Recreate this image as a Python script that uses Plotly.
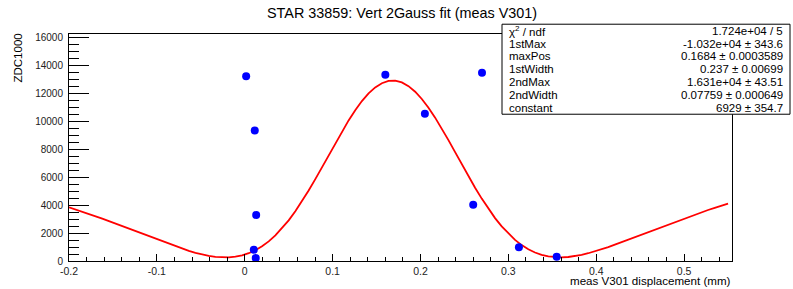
import numpy as np
import plotly.graph_objects as go

# Data points
x_pts = [0.0016, 0.0114, 0.013, 0.0103, 0.0125, 0.160, 0.205, 0.270, 0.260, 0.312, 0.355]
y_pts = [13230, 9350, 3290, 810, 210, 13340, 10540, 13480, 4030, 980, 300]

# Fit parameters (from stats box)
fit_names = ["1stMax", "maxPos", "1stWidth", "2ndMax", "2ndWidth", "constant"]
fit_vals = [-1.032e4, 0.1684, 0.237, 1.631e4, 0.07759, 6929]
stat_labels = ["χ<sup>2</sup> / ndf", "1stMax", "maxPos", "1stWidth", "2ndMax", "2ndWidth", "constant"]
stat_values = ["1.724e+04 / 5", "-1.032e+04 ± 343.6", "0.1684 ± 0.0003589", "0.237 ± 0.00699",
               "1.631e+04 ± 43.51", "0.07759 ± 0.000649", "6929 ± 354.7"]
fit_range = [-0.2, 0.55]

x_ticks = [-0.2, -0.1, 0, 0.1, 0.2, 0.3, 0.4, 0.5]
x_ticktext = ["-0.2", "-0.1", "0", "0.1", "0.2", "0.3", "0.4", "0.5"]
y_ticks = [0, 2000, 4000, 6000, 8000, 10000, 12000, 14000, 16000]
y_ticktext = ["0", "2000", "4000", "6000", "8000", "10000", "12000", "14000", "16000"]

a1, mu, s1, a2, s2, c = fit_vals
xf = np.linspace(fit_range[0], fit_range[1], 100)
yf = c + a1 * np.exp(-0.5 * ((xf - mu) / s1) ** 2) + a2 * np.exp(-0.5 * ((xf - mu) / s2) ** 2)

W, H = 793, 289
L, R, T, B = 69, 732, 34, 266
FONT = "Liberation Sans, Arial, Helvetica, sans-serif"

fig = go.Figure()
fig.add_trace(go.Scatter(x=xf, y=yf, mode="lines", line=dict(color="#ff0000", width=1.8), hoverinfo="skip"))
fig.add_trace(go.Scatter(x=x_pts, y=y_pts, mode="markers", marker=dict(color="#0000ff", size=8)))

def px(xp):
    return (xp - L) / (R - L)

def py(yp):
    return (B - yp) / (B - T)

fig.update_layout(
    width=W, height=H,
    margin=dict(l=L, r=W - R, t=T, b=H - B, pad=0),
    paper_bgcolor="white", plot_bgcolor="white",
    showlegend=False,
    font=dict(family=FONT, size=11, color="black"),
    xaxis=dict(range=[-0.2, 0.5545], showgrid=False, zeroline=False,
               showline=True, linecolor="black", linewidth=1, mirror=True,
               ticks="inside", ticklen=7, tickcolor="black",
               tickfont=dict(size=10.5, color="#222"), ticklabelstandoff=0,
               tickvals=x_ticks, ticktext=x_ticktext,
               minor=dict(ticks="inside", ticklen=4, dtick=0.02, tick0=0, tickcolor="black", showgrid=False)),
    yaxis=dict(range=[0, 16250], showgrid=False, zeroline=False,
               showline=True, linecolor="black", linewidth=1, mirror=True,
               ticks="inside", ticklen=20, tickcolor="black",
               tickvals=y_ticks, ticktext=y_ticktext, ticklabelstandoff=3,
               tickfont=dict(size=10, color="#222"),
               minor=dict(ticks="inside", ticklen=10, dtick=500, tick0=0, tickcolor="black", showgrid=False)),
)

# Title
fig.add_annotation(text="STAR 33859: Vert 2Gauss fit (meas V301)", xref="paper", yref="paper",
                   x=px(402), y=py(13), xanchor="center", yanchor="middle", showarrow=False,
                   font=dict(size=14.4, family=FONT))
# Axis titles
fig.add_annotation(text="meas V301 displacement (mm)", xref="paper", yref="paper",
                   x=px(732), y=py(285.5), xanchor="right", yanchor="middle", showarrow=False,
                   borderpad=0, font=dict(size=11.6, family=FONT))
fig.add_annotation(text="ZDC1000", xref="paper", yref="paper", textangle=-90,
                   x=px(18), y=py(32), xanchor="center", yanchor="top", showarrow=False,
                   font=dict(size=11.5, family=FONT))

# Stats box
bx0, bx1, by0, by1 = 502, 790, 24, 116
fig.add_shape(type="rect", xref="paper", yref="paper", x0=px(bx0), x1=px(bx1), y0=py(by1), y1=py(by0),
              line=dict(color="black", width=1), fillcolor="white", layer="above")
row_h = (by1 - by0) / len(stat_labels)
for i, (lab, val) in enumerate(zip(stat_labels, stat_values)):
    yc = by0 + row_h * (i + 0.5)
    fig.add_annotation(text=lab, xref="paper", yref="paper", x=px(bx0 + 5), y=py(yc),
                       xanchor="left", yanchor="middle", showarrow=False, font=dict(size=11.5, family=FONT))
    fig.add_annotation(text=val, xref="paper", yref="paper", x=px(bx1 - 5), y=py(yc),
                       xanchor="right", yanchor="middle", showarrow=False, font=dict(size=11.5, family=FONT))

fig.write_html("out.html", config={"displayModeBar": False},
               post_script="document.body.style.margin='0';document.body.style.overflow='hidden';")
